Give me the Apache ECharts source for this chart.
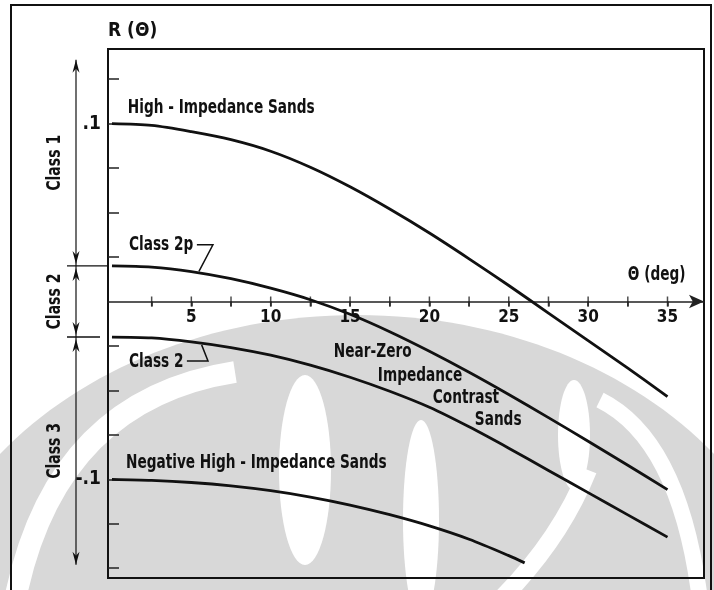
<!DOCTYPE html>
<html><head><meta charset="utf-8">
<script src="https://cdn.jsdelivr.net/npm/echarts@6/dist/echarts.min.js"></script>
<style>html,body{margin:0;padding:0;background:#fff}#c{width:714px;height:590px}</style>
</head><body><div id="c"></div>
<script>
// ---- data ----
const thetaDeg = [0, 2.5, 5, 7.5, 10, 12.5, 15, 17.5, 20, 22.5, 25, 27.5, 30, 32.5, 35];
const rClass1 = [0.100, 0.099, 0.0955, 0.091, 0.0845, 0.0755, 0.0645, 0.052, 0.0385, 0.024, 0.009, -0.0065, -0.022, -0.0375, -0.0535];
const rClass2p = [0.020, 0.0193, 0.0168, 0.0128, 0.0075, 0.001, -0.0072, -0.017, -0.028, -0.0398, -0.0523, -0.0653, -0.0786, -0.0921, -0.1058];
const rClass2 = [-0.020, -0.0205, -0.0227, -0.0259, -0.0302, -0.0358, -0.0426, -0.0505, -0.0595, -0.0705, -0.0825, -0.095, -0.1075, -0.120, -0.1325];
const thetaClass3 = [0, 2.5, 5, 7.5, 10, 12.5, 15, 17.5, 20, 22.5, 25, 26];
const rClass3 = [-0.100, -0.1006, -0.1018, -0.1037, -0.1064, -0.1100, -0.1145, -0.1199, -0.1262, -0.1337, -0.1429, -0.1470];
const xTickValues = [2.5, 5, 7.5, 10, 12.5, 15, 17.5, 20, 22.5, 25, 27.5, 30, 32.5, 35];
const xLabelValues = [5, 10, 15, 20, 25, 30, 35];
const yTickValues = [-0.15, -0.125, -0.1, -0.075, -0.05, -0.025, 0.025, 0.05, 0.075, 0.1, 0.125];
const yLabelValues = [0.1, -0.1];
const yLabelText = ['.1', '-.1'];
const classBounds = [0.136, 0.02, -0.02, -0.148];
const classNames = ['Class 1', 'Class 2', 'Class 3'];

const FONT = '"DejaVu Sans Condensed", "Liberation Sans Narrow", sans-serif';
const INK = '#111';
const GRAY = '#d8d8d8';

const chart = echarts.init(document.getElementById('c'), null, {renderer: 'canvas'});
const pair = (xs, ys) => xs.map((x, i) => [x, ys[i]]);
const curve = (name, xs, ys) => ({
  name, type: 'line', data: pair(xs, ys), smooth: 0.3, symbol: 'none',
  lineStyle: {color: INK, width: 2.8}, z: 5, silent: true
});

const grid = {left: 108, top: 49, width: 596, height: 529, show: true, borderColor: INK, borderWidth: 2,
              backgroundColor: 'transparent', containLabel: false, outerBoundsMode: 'none'};
const option = {
  backgroundColor: '#fff',
  animation: false,
  grid,
  xAxis: {
    type: 'value', min: -0.25, max: 37.3, position: 'bottom', offset: 0,
    axisLine: {onZero: false, lineStyle: {color: '#222', width: 1.5}, symbol: ['none', 'arrow'], symbolSize: [10, 15]},
    axisTick: {customValues: xTickValues, length: 5, lineStyle: {color: '#222', width: 1.5}},
    axisLabel: {customValues: xLabelValues, fontFamily: FONT, fontSize: 17, fontWeight: 'bold', color: INK, margin: 8},
    splitLine: {show: false}
  },
  yAxis: {
    type: 'value', min: -0.1555, max: 0.142,
    axisLine: {show: false, onZero: false},
    axisTick: {customValues: yTickValues, inside: true, length: 11, lineStyle: {color: '#222', width: 1.5}},
    axisLabel: {customValues: yLabelValues, formatter: v => yLabelText[yLabelValues.indexOf(v)] || '', fontFamily: FONT, fontSize: 19, fontWeight: 'bold', color: INK, margin: 7},
    splitLine: {show: false},
    name: 'R (Θ)', nameLocation: 'end', nameGap: 8,
    nameTextStyle: {fontFamily: FONT, fontSize: 19, fontWeight: 'bold', color: INK, align: 'left', verticalAlign: 'bottom'}
  },
  series: [
    curve('High-Impedance Sands', thetaDeg, rClass1),
    curve('Class 2p', thetaDeg, rClass2p),
    curve('Class 2', thetaDeg, rClass2),
    curve('Negative High-Impedance Sands', thetaClass3, rClass3),
    { // upper halves of the x-axis tick marks (ticks cross the zero line)
      name: 'xTicksUp', type: 'scatter', data: xTickValues.map(v => [v, 0]),
      symbol: 'rect', symbolSize: [1.5, 10], itemStyle: {color: '#222'}, z: 4, silent: true
    }
  ]
};
chart.setOption(option);

const P = (x, y) => chart.convertToPixel({gridIndex: 0}, [x, y]);
// move the θ axis (with its labels) up to R = 0
const zeroY = P(0, 0)[1];
chart.setOption({xAxis: {offset: zeroY - (grid.top + grid.height)}});

// ---- annotations placed in data coordinates ----
const txtStyle = (size) => ({fontFamily: FONT, fontSize: size, fontWeight: 'bold', fill: INK});
const annotations = [
  ['High - Impedance Sands', 1.0, 0.109],
  ['Class 2p', 1.07, 0.0319],
  ['Class 2', 1.07, -0.0338],
  ['Near-Zero', 13.98, -0.0283],
  ['Impedance', 16.75, -0.0422],
  ['Contrast', 20.21, -0.0542],
  ['Sands', 22.86, -0.0666],
  ['Negative High - Impedance Sands', 0.88, -0.0906],
  ['Θ (deg)', 32.5, 0.015]
];
const g = [];
// watermark (decorative background logo, approximate)
const wm = (shape, fill) => g.push({type: 'ellipse', shape, style: {fill}, z: -20, silent: true});
const wband = (shape, w) => g.push({type: 'bezierCurve', shape, style: {stroke: '#fff', lineWidth: w, fill: 'none'}, z: -19, silent: true});
wm({cx: 357, cy: 660, rx: 445, ry: 345}, GRAY);
wband({x1: 15, y1: 600, cpx1: 55, cpy1: 400, x2: 235, y2: 372}, 22);
wband({x1: 700, y1: 600, cpx1: 680, cpy1: 440, x2: 600, y2: 400}, 16);
wband({x1: 588, y1: 470, cpx1: 560, cpy1: 540, x2: 500, y2: 600}, 18);
wm({cx: 305, cy: 470, rx: 26, ry: 95}, '#fff');
wm({cx: 421, cy: 520, rx: 18, ry: 100}, '#fff');
wm({cx: 574, cy: 435, rx: 16, ry: 55}, '#fff');
// outer frame
g.push({type: 'rect', shape: {x: 11, y: 5, width: 700, height: 600}, style: {fill: 'none', stroke: INK, lineWidth: 2}, z: 10, silent: true});

annotations.forEach(([t, x, y]) => {
  const p = P(x, y);
  g.push({type: 'text', x: p[0], y: p[1], scaleX: 0.8, style: Object.assign({text: t, align: 'left', verticalAlign: 'middle'}, txtStyle(19)), z: 10, silent: true});
});
// leader lines
const lead = (pts) => g.push({type: 'polyline', shape: {points: pts.map(q => P(q[0], q[1]))}, style: {stroke: INK, lineWidth: 1.5, fill: 'none'}, z: 10, silent: true});
lead([[5.35, 0.0319], [6.36, 0.0319], [5.48, 0.0169]]);
lead([[4.72, -0.0334], [6.05, -0.0334], [5.65, -0.0244]]);

// class brackets on the left
const ax = 76;
const yb = classBounds.map(v => P(0, v)[1]);
const arrowHead = (x, tipY, dir) => { // dir -1 = up, +1 = down
  g.push({type: 'polygon', shape: {points: [[x, tipY], [x - 3.5, tipY - dir * 13], [x, tipY - dir * 9], [x + 3.5, tipY - dir * 13]]}, style: {fill: INK}, z: 10, silent: true});
};
for (let i = 0; i < 3; i++) {
  g.push({type: 'line', shape: {x1: ax, y1: yb[i], x2: ax, y2: yb[i + 1]}, style: {stroke: INK, lineWidth: 1.2}, z: 10, silent: true});
  arrowHead(ax, yb[i] + (i === 0 ? 0 : 2), -1);
  arrowHead(ax, yb[i + 1] - (i === 2 ? 0 : 2), 1);
  g.push({type: 'text', x: 55, y: (yb[i] + yb[i + 1]) / 2, rotation: Math.PI / 2, scaleX: 0.82,
    style: Object.assign({text: classNames[i], align: 'center', verticalAlign: 'middle'}, txtStyle(19)), z: 10, silent: true});
}
g.push({type: 'line', shape: {x1: 67, y1: yb[1], x2: 108, y2: yb[1]}, style: {stroke: INK, lineWidth: 1.2}, z: 10, silent: true});
g.push({type: 'line', shape: {x1: 67, y1: yb[2], x2: 100, y2: yb[2]}, style: {stroke: INK, lineWidth: 1.5}, z: 10, silent: true});

chart.setOption({graphic: {elements: g}});
</script>
</body></html>
